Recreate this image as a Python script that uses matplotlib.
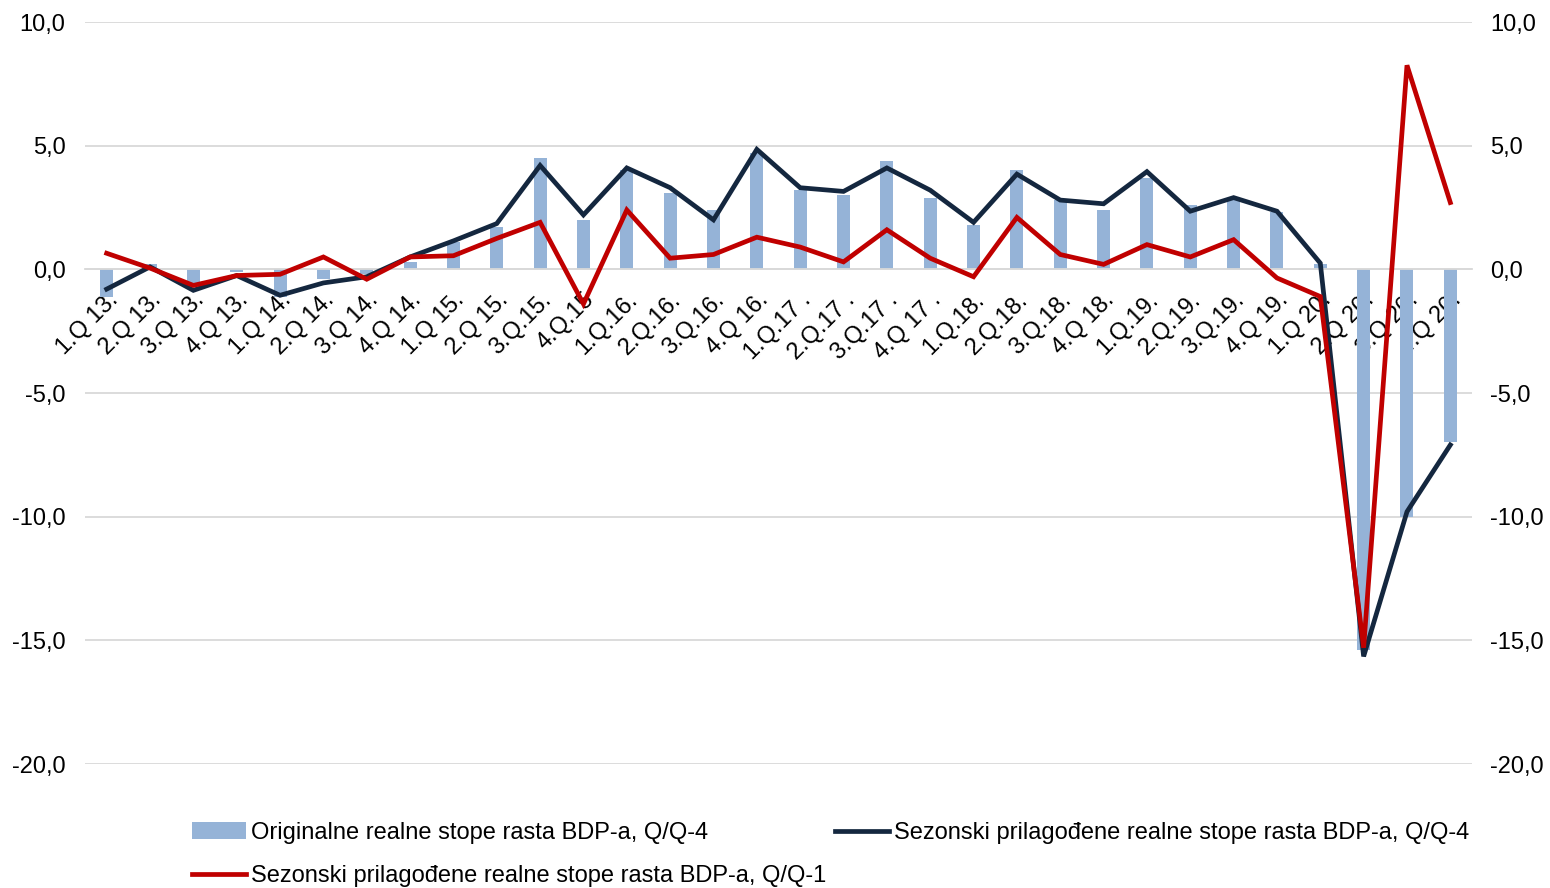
# -*- coding: utf-8 -*-
# Stope rasta BDP-a : originalne (Q/Q-4) i sezonski prilagodjene (Q/Q-4, Q/Q-1)

import matplotlib
matplotlib.use("Agg")
import matplotlib.pyplot as plt
from matplotlib.ticker import FuncFormatter

kvartali = ["1.Q 13.", "2.Q 13.", "3.Q 13.", "4.Q 13.",
            "1.Q 14.", "2.Q 14.", "3.Q 14.", "4.Q 14.",
            "1.Q 15.", "2.Q 15.", "3.Q.15.", "4.Q.15",
            "1.Q.16.", "2.Q.16.", "3.Q.16.", "4.Q 16.",
            "1.Q.17 .", "2.Q.17 .", "3.Q.17 .", "4.Q 17 .",
            "1.Q.18.", "2.Q.18.", "3.Q.18.", "4.Q 18.",
            "1.Q.19.", "2.Q.19.", "3.Q.19.", "4.Q 19.",
            "1.Q 20.", "2.Q 20.", "3.Q 20.", "4.Q 20."]

originalne_qq4 = [-1.1, 0.2, -0.6, -0.1, -1.1, -0.4, -0.2, 0.3,
                  1.1, 1.7, 4.5, 2.0, 4.0, 3.1, 2.4, 4.7,
                  3.2, 3.0, 4.4, 2.9, 1.8, 4.0, 2.8, 2.4,
                  3.7, 2.6, 2.8, 2.3, 0.2, -15.4, -10.0, -7.0]

sezonski_qq4 = [-0.8, 0.1, -0.85, -0.25, -1.05, -0.55, -0.3, 0.5,
                1.15, 1.85, 4.2, 2.2, 4.1, 3.3, 2.0, 4.85,
                3.3, 3.15, 4.1, 3.2, 1.9, 3.85, 2.8, 2.65,
                3.95, 2.35, 2.9, 2.35, 0.25, -15.65, -9.8, -7.1]

sezonski_qq1 = [0.65, 0.05, -0.65, -0.25, -0.2, 0.5, -0.4, 0.5,
                0.55, 1.25, 1.9, -1.4, 2.4, 0.45, 0.6, 1.3,
                0.9, 0.3, 1.6, 0.45, -0.3, 2.1, 0.6, 0.2,
                1.0, 0.5, 1.2, -0.35, -1.1, -15.3, 8.25, 2.7]

y_tickovi = [-20, -15, -10, -5, 0, 5, 10]

plt.rcParams["font.family"] = ["Liberation Sans", "DejaVu Sans"]
plt.rcParams["font.size"] = 17


def zarez(v, pos):
    # 10.0 -> "10,0"
    return ("%.1f" % v).replace(".", ",")


def main():
    fig = plt.figure(figsize=(15.5, 8.88), dpi=100)
    ax = fig.add_axes([85 / 1550, 1 - 764 / 888, 1387 / 1550, 742 / 888])

    x = list(range(len(kvartali)))
    stubici = ax.bar(x, originalne_qq4, width=0.3, color="#95B3D7", zorder=1,
                     label="Originalne realne stope rasta BDP-a, Q/Q-4")
    linija4, = ax.plot(x, sezonski_qq4, color="#14273F", lw=3.4, zorder=3,
                       solid_joinstyle="miter",
                       label="Sezonski prilagođene realne stope rasta BDP-a, Q/Q-4")
    linija1, = ax.plot(x, sezonski_qq1, color="#C00000", lw=3.4, zorder=4,
                       solid_joinstyle="miter",
                       label="Sezonski prilagođene realne stope rasta BDP-a, Q/Q-1")

    ax.set_xlim(-0.5, len(kvartali) - 0.5)
    ax.set_ylim(-20, 10)
    ax.set_yticks(y_tickovi)
    ax.yaxis.set_major_formatter(FuncFormatter(zarez))
    ax.grid(True, axis="y", color="#D9D9D9", lw=1.3)
    ax.set_axisbelow(True)

    # os x na nuli, oznake pod 45 stepeni
    ax.spines["bottom"].set_position(("data", 0))
    ax.spines["bottom"].set_color("#D9D9D9")
    ax.spines["bottom"].set_linewidth(1.3)
    for s in ["top", "left", "right"]:
        ax.spines[s].set_visible(False)
    ax.set_xticks(x)
    ax.set_xticklabels(kvartali, rotation=45, ha="right", va="top",
                       rotation_mode="anchor")
    ax.tick_params(axis="x", length=0, pad=14)
    ax.tick_params(axis="y", length=0, pad=14)

    # desna osa, iste vrijednosti
    ax2 = ax.twinx()
    ax2.set_ylim(-20, 10)
    ax2.set_yticks(y_tickovi)
    ax2.yaxis.set_major_formatter(FuncFormatter(zarez))
    ax2.tick_params(axis="y", length=0, pad=13)
    for s in ax2.spines.values():
        s.set_visible(False)

    # kolone se pune odozgo prema dolje: [stubici, Q/Q-1] | [Q/Q-4]
    redom = [stubici, linija1, linija4]
    fig.legend(redom, [r.get_label() for r in redom],
               loc="upper left", bbox_to_anchor=(192 / 1550, 1 - 822 / 888),
               ncol=2, frameon=False, borderpad=0, borderaxespad=0,
               handlelength=2.3, handletextpad=0.2, columnspacing=0.35,
               labelspacing=0.9)

    fig.savefig("out.png", dpi=100)


if __name__ == "__main__":
    main()
